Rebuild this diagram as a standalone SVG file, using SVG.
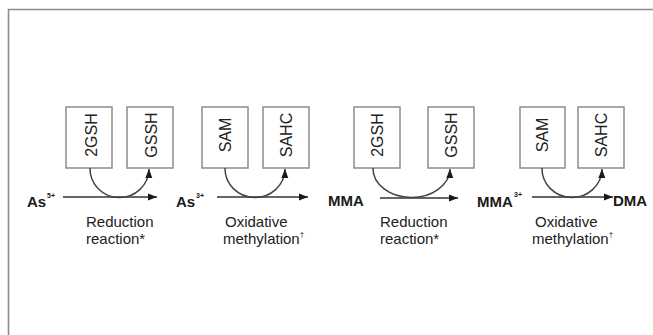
<svg xmlns="http://www.w3.org/2000/svg" width="653" height="335" viewBox="0 0 653 335">
<defs>
<marker id="ah" markerWidth="10" markerHeight="8" refX="9" refY="4" orient="auto" markerUnits="userSpaceOnUse">
<path d="M0,0.5 L9,4 L0,7.5 Z" fill="#1a1a1a"/>
</marker>
</defs>
<style>
.frame{stroke:#8a8a8a;stroke-width:1.6;fill:none}
.box{fill:#fff;stroke:#8c8c8c;stroke-width:1.5}
.bt{font-family:"Liberation Sans",Arial,sans-serif;font-size:16px;fill:#222;text-anchor:middle}
.chem{font-family:"Liberation Sans",Arial,sans-serif;font-size:15px;font-weight:bold;fill:#1a1a1a}
.sup{font-family:"Liberation Sans",Arial,sans-serif;font-size:7px;font-weight:bold;fill:#1a1a1a}
.lab{font-family:"Liberation Sans",Arial,sans-serif;font-size:15px;fill:#222}
.labsup{font-family:"Liberation Sans",Arial,sans-serif;font-size:8px;fill:#222}
.ln{stroke:#333;stroke-width:1.5;fill:none}
.arc{stroke:#444;stroke-width:1.5;fill:none}
</style>
<rect width="653" height="335" fill="#fff"/>
<path class="frame" d="M8.5,335 L8.5,9.5 L653,9.5"/>

<g id="box-2gsh-1"><rect class="box" x="66" y="107" width="46" height="61"/><text class="bt" transform="translate(97,135) rotate(-90)">2GSH</text></g>
<g id="box-gssh-1"><rect class="box" x="127" y="107" width="46" height="61"/><text class="bt" transform="translate(157,135) rotate(-90)">GSSH</text></g>
<g id="box-sam-1"><rect class="box" x="202" y="107" width="46" height="61"/><text class="bt" transform="translate(231,135) rotate(-90)">SAM</text></g>
<g id="box-sahc-1"><rect class="box" x="263" y="107" width="46" height="61"/><text class="bt" transform="translate(292,135) rotate(-90)">SAHC</text></g>
<g id="box-2gsh-2"><rect class="box" x="354" y="107" width="46" height="61"/><text class="bt" transform="translate(383,135) rotate(-90)">2GSH</text></g>
<g id="box-gssh-2"><rect class="box" x="428" y="107" width="46" height="61"/><text class="bt" transform="translate(457,135) rotate(-90)">GSSH</text></g>
<g id="box-sam-2"><rect class="box" x="520" y="107" width="45" height="61"/><text class="bt" transform="translate(548,135) rotate(-90)">SAM</text></g>
<g id="box-sahc-2"><rect class="box" x="578" y="107" width="46" height="61"/><text class="bt" transform="translate(607,135) rotate(-90)">SAHC</text></g>

<g id="as5"><text class="chem" x="27" y="207">As</text><text class="sup" x="47" y="198">5+</text></g>
<g id="as3"><text class="chem" x="176" y="207">As</text><text class="sup" x="196" y="198">3+</text></g>
<g id="mma"><text class="chem" x="328" y="206">MMA</text></g>
<g id="mma3"><text class="chem" x="477" y="207">MMA</text><text class="sup" x="514" y="197">3+</text></g>
<g id="dma"><text class="chem" x="613" y="206">DMA</text></g>

<g id="label-1"><text class="lab" x="86" y="227">Reduction</text><text class="lab" x="86" y="244">reaction*</text></g>
<g id="label-2"><text class="lab" x="225" y="227">Oxidative</text><text class="lab" x="223" y="244">methylation<tspan class="labsup" dy="-7">†</tspan></text></g>
<g id="label-3"><text class="lab" x="380" y="227">Reduction</text><text class="lab" x="380" y="244">reaction*</text></g>
<g id="label-4"><text class="lab" x="535" y="227">Oxidative</text><text class="lab" x="532" y="244">methylation<tspan class="labsup" dy="-7">†</tspan></text></g>

<g id="connectors">
<line class="ln" x1="63" y1="197" x2="157" y2="197" marker-end="url(#ah)"/>
<line class="ln" x1="217" y1="197" x2="308" y2="197" marker-end="url(#ah)"/>
<line class="ln" x1="380" y1="198" x2="458" y2="198" marker-end="url(#ah)"/>
<line class="ln" x1="532" y1="197" x2="613" y2="197" marker-end="url(#ah)"/>
<path class="arc" d="M90,168 A29.5,29 0 0,0 149,169" marker-end="url(#ah)"/>
<path class="arc" d="M225,168 A30,29 0 0,0 285,169" marker-end="url(#ah)"/>
<path class="arc" d="M373,168 A38.5,29 0 0,0 450,169" marker-end="url(#ah)"/>
<path class="arc" d="M542,168 A30,29 0 0,0 602,169" marker-end="url(#ah)"/>
</g>
</svg>
